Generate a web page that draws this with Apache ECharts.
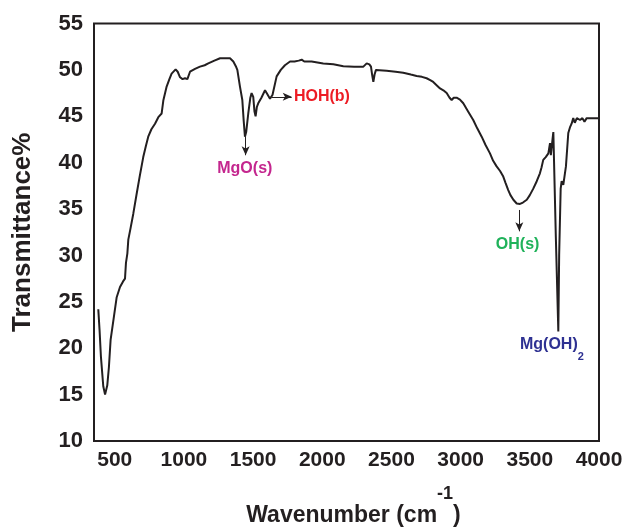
<!DOCTYPE html>
<html>
<head>
<meta charset="utf-8">
<script src="https://cdn.jsdelivr.net/npm/echarts@6/dist/echarts.min.js"></script>
<style>html,body{margin:0;padding:0;background:#fff}#c{width:625px;height:527px}</style>
</head>
<body>
<div id="c"></div>
<script>
const wavenumber = [381,390,400,417,430,446,458,470,494,514,538,560,574,581,591,598,615,634,659,680,706,725,742,765,791,815,839,851,875,895,911,940,955,972,990,1008,1025,1044,1080,1116,1150,1176,1220,1261,1300,1333,1357,1375,1386,1405,1422,1432,1441,1450,1465,1480,1489,1501,1510,1518,1527,1537,1560,1586,1598,1610,1622,1640,1670,1700,1730,1767,1800,1830,1851,1870,1923,2007,2080,2152,2230,2297,2321,2340,2352,2360,2369,2378,2388,2465,2530,2585,2640,2682,2720,2754,2780,2802,2830,2851,2875,2899,2920,2935,2950,2971,2995,3019,3055,3091,3120,3152,3180,3212,3235,3260,3285,3308,3325,3344,3360,3381,3405,3429,3450,3478,3500,3525,3550,3573,3585,3597,3615,3634,3646,3652,3658,3664,3670,3688,3706,3712,3723,3730,3742,3761,3778,3790,3802,3814,3825,3840,3863,3880,3895,3911,3950,3995];
const transmittance = [24.2,22.0,19.1,15.9,15.0,16.0,18.0,20.9,23.4,25.5,26.6,27.2,27.5,29.2,30.2,31.7,33.0,34.5,36.7,38.5,40.6,41.8,42.8,43.6,44.2,44.9,45.3,46.7,48.2,49.0,49.6,50.05,49.8,49.2,49.0,49.1,49.0,49.8,50.1,50.35,50.5,50.7,51.0,51.25,51.25,51.25,50.9,50.4,50.0,48.2,46.75,44.5,42.8,43.3,45.3,47.0,47.5,47.1,45.5,45.0,46.0,46.4,47.0,47.8,47.5,47.3,46.9,47.3,49.3,50.0,50.5,50.9,50.9,51.0,51.1,50.9,50.9,50.7,50.6,50.4,50.35,50.35,50.7,50.6,50.35,49.5,48.7,49.5,50.0,49.9,49.8,49.7,49.5,49.35,49.25,49.1,48.9,48.7,48.3,48.0,47.8,47.5,47.0,46.75,47.0,47.0,46.8,46.4,45.5,44.6,43.7,42.8,41.9,41.0,40.2,39.6,39.1,38.5,37.8,37.05,36.5,36.0,35.6,35.55,35.7,36.0,36.5,37.2,38.0,38.85,39.5,40.3,40.6,41.0,42.1,40.8,40.6,42.5,43.3,32.0,21.8,30.0,37.2,38.0,37.6,39.6,43.2,43.8,44.2,44.8,44.3,44.8,44.6,44.8,44.4,44.8,44.8,44.8];
const xTicks = [500,1000,1500,2000,2500,3000,3500,4000];
const yTicks = [10,15,20,25,30,35,40,45,50,55];

const annLabels = ['MgO(s)','HOH(b)','OH(s)','Mg(OH)2'];
const annLabelPos = [[1440,39.2],[1795,47.05],[3412,31.1],[3429,19.9]];
const annArrows = [[[1446,42.8],[1446,40.8]],[[1634,47.1],[1779,47.1]],[[3424,34.9],[3424,32.6]]];
const annColors = ['#c4268e','#ed1c24','#1fb25a','#2e3192'];

const font = "'Liberation Sans', Arial, sans-serif";
const ink = '#231f20';

const chart = echarts.init(document.getElementById('c'), null, {renderer:'canvas'});

const markPointData = annLabels.map((t,i) => {
  const isSub = t === 'Mg(OH)2';
  return {
    coord: annLabelPos[i],
    symbol: 'circle', symbolSize: 1,
    itemStyle: {color: 'rgba(0,0,0,0)'},
    label: {
      show: true,
      position: 'inside',
      align: i === 1 || i === 3 ? 'left' : 'center',
      verticalAlign: 'middle',
      formatter: isSub ? '{a|Mg(OH)}{b|2}' : '{a|' + t + '}',
      rich: {
        a: {fontFamily: font, fontWeight: 'bold', fontSize: 16, color: annColors[i], verticalAlign: 'top', lineHeight: 18},
        b: {fontFamily: font, fontWeight: 'bold', fontSize: 11, color: annColors[i], verticalAlign: 'bottom', lineHeight: 26}
      }
    }
  };
});

const markLineData = annArrows.map(a => [{coord: a[0]}, {coord: a[1]}]);

chart.setOption({
  animation: false,
  backgroundColor: '#fff',
  grid: {left: 94, right: 26, top: 23.5, bottom: 86, containLabel: false, outerBoundsMode: 'none', show: true, borderColor: ink, borderWidth: 2, backgroundColor: 'transparent'},
  xAxis: {
    type: 'value', min: 350, max: 4000,
    name: '{a|Wavenumber (cm}{s|-1}{a|)}',
    nameLocation: 'middle', nameGap: 44,
    nameTextStyle: {
      padding: [0, 0, 0, 14],
      rich: {
        a: {fontFamily: font, fontWeight: 'bold', fontSize: 23, color: ink, verticalAlign: 'bottom', lineHeight: 24},
        s: {fontFamily: font, fontWeight: 'bold', fontSize: 18, color: ink, verticalAlign: 'top', lineHeight: 42}
      }
    },
    axisLine: {show: false},
    axisTick: {show: false},
    splitLine: {show: false},
    axisLabel: {customValues: xTicks, formatter: v => String(v), fontFamily: font, fontWeight: 'bold', fontSize: 21, color: ink, margin: 9}
  },
  yAxis: {
    type: 'value', min: 10, max: 55, interval: 5,
    name: 'Transmittance%',
    nameLocation: 'middle', nameGap: 58,
    nameTextStyle: {fontFamily: font, fontWeight: 'bold', fontSize: 26, color: ink},
    axisLine: {show: false},
    axisTick: {show: false},
    splitLine: {show: false},
    axisLabel: {customValues: yTicks, formatter: v => String(v), fontFamily: font, fontWeight: 'bold', fontSize: 22, color: ink, margin: 11}
  },
  series: [{
    type: 'line',
    data: wavenumber.map((w,i) => [w, transmittance[i]]),
    showSymbol: false,
    symbol: 'none',
    lineStyle: {color: ink, width: 2},
    silent: true,
    z: 3,
    markLine: {
      silent: true,
      symbol: ['none','arrow'],
      symbolSize: [6, 9],
      label: {show: false},
      lineStyle: {color: ink, width: 1, type: 'solid'},
      data: markLineData
    },
    markPoint: {
      silent: true,
      data: markPointData
    }
  }]
});
</script>
</body>
</html>
